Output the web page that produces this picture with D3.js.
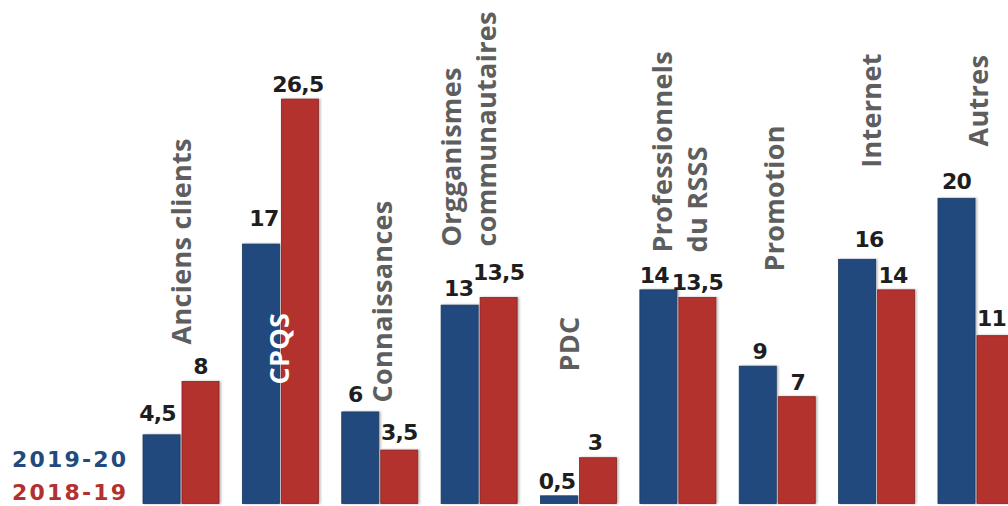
<!DOCTYPE html>
<html>
<head>
<meta charset="utf-8">
<script src="https://cdn.jsdelivr.net/npm/d3@7"></script>
<style>
  html, body { margin: 0; padding: 0; background: #ffffff; }
  svg { display: block; }
</style>
</head>
<body>
<svg id="chart" width="1008" height="506"></svg>
<script>
// Sources de référence, deux années comparées
const categories = [
  "Anciens clients", "CPQS", "Connaissances", "Orgganismes|communautaires",
  "PDC", "Professionnels|du RSSS", "Promotion", "Internet", "Autres"
];
const seriesNames = ["2019-20", "2018-19"];
const values2019 = [4.5, 17, 6, 13, 0.5, 14, 9, 16, 20];
const values2018 = [8, 26.5, 3.5, 13.5, 3, 13.5, 7, 14, 11];

// Layout helpers (kept apart from the values)
const colors = { "2019-20": "#234a7d", "2018-19": "#b4302e" };
const labelAt = [10.42, 7.8, 6.62, 16.84, 8.65, 16.45, 15.2, 22.0, 23.4]; // where each category name starts, in data units
const labelDx = [0, -1, 3, -10, -9, 1.5, -3, -5, 2];
const valueLift = { "2019-20": [7, 11, 3, 2, 0, 0, 0, 5, 2], "2018-19": [0, 0, 3, 10, 1, 0, 0, 0, 3] };
const valueDx = { "2019-20": [-4, 3, -5, -1, -2, -4, 2, 12, 0], "2018-19": [0, -2, 0, 0, -3, 0, 1, -3, -4] };

const svg = d3.select("#chart");

const x = d3.scaleBand().domain(categories).range([143, 1014]).paddingInner(0.235).paddingOuter(0);
const xs = d3.scaleBand().domain(seriesNames).range([0, x.bandwidth()]).paddingInner(0.05);
const y = d3.scaleLinear().domain([0, 30]).range([503.5, 503.5 - 30 * 15.26]);

const fmt = d3.formatLocale({ decimal: ",", thousands: " ", grouping: [3], currency: ["", " €"] }).format(".1~f");

// soft shadow beside the bars
const defs = svg.append("defs");
const f = defs.append("filter").attr("id", "shadow").attr("x", "-20%").attr("y", "-5%").attr("width", "140%").attr("height", "110%");
f.append("feDropShadow").attr("dx", 1.5).attr("dy", 0).attr("stdDeviation", 1.2)
  .attr("flood-color", "#000").attr("flood-opacity", 0.3);

const rows = categories.map((c, i) => ({
  cat: c, i,
  vals: [
    { s: "2019-20", v: values2019[i] },
    { s: "2018-19", v: values2018[i] }
  ]
}));

const groups = svg.append("g").selectAll("g.grp").data(rows).join("g")
  .attr("class", "grp")
  .attr("transform", d => `translate(${x(d.cat)},0)`);

groups.selectAll("rect").data(d => d.vals.map(v => ({ ...v, i: d.i }))).join("rect")
  .attr("x", d => xs(d.s))
  .attr("width", xs.bandwidth())
  .attr("y", d => y(d.v))
  .attr("height", d => y(0) - y(d.v))
  .attr("fill", d => colors[d.s])
  .attr("stroke", d => d3.color(colors[d.s]).darker(0.8))
  .attr("stroke-width", 0.8)
  .attr("filter", "url(#shadow)");

// value labels
groups.selectAll("text.val").data(d => d.vals.map(v => ({ ...v, i: d.i }))).join("text")
  .attr("class", "val")
  .attr("x", d => xs(d.s) + xs.bandwidth() / 2 + valueDx[d.s][d.i])
  .attr("y", d => y(d.v) - 7 - valueLift[d.s][d.i])
  .attr("text-anchor", "middle")
  .attr("font-family", "'DejaVu Sans', sans-serif")
  .attr("font-weight", 700)
  .attr("font-size", 22)
  .attr("letter-spacing", -0.8)
  .attr("fill", "#1e1e1e")
  .text(d => fmt(d.v));

// rotated category names
const names = svg.append("g").selectAll("g.name").data(rows).join("g")
  .attr("class", "name")
  .attr("transform", d => `translate(${x(d.cat) + x.bandwidth() / 2 + labelDx[d.i]},${y(labelAt[d.i])}) rotate(-90)`);

names.append("text")
  .attr("font-family", "'Open Sans', sans-serif")
  .attr("font-weight", 700)
  .attr("font-size", 27)
  .attr("letter-spacing", 0.3)
  .attr("fill", d => d.cat === "CPQS" ? "#ffffff" : "#5e5e5e")
  .attr("text-anchor", "start")
  .each(function (d) {
    const lines = d.cat.split("|");
    const sp = 35;
    d3.select(this).selectAll("tspan").data(lines).join("tspan")
      .attr("x", 0)
      .attr("y", (l, k) => (k - (lines.length - 1) / 2) * sp)
      .attr("dy", "0.36em")
      .text(l => l);
  });

// legend
const legend = svg.append("g");
legend.selectAll("text").data(seriesNames).join("text")
  .attr("x", 12)
  .attr("y", (d, k) => 467 + k * 33)
  .attr("font-family", "'DejaVu Sans', sans-serif")
  .attr("font-weight", 700)
  .attr("font-size", 22)
  .attr("letter-spacing", 2.2)
  .attr("fill", d => colors[d])
  .text(d => d);
</script>
</body>
</html>
